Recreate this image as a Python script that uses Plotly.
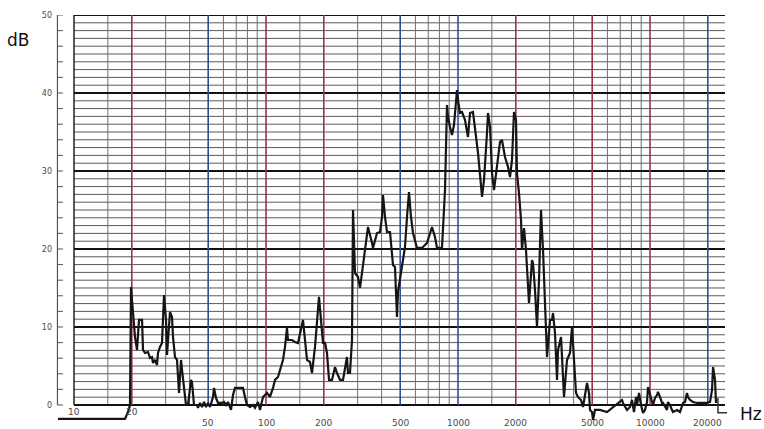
import math
import plotly.graph_objects as go

# ---------------- data ----------------
freq_hz = [8.25, 18.44, 19.11, 19.57, 19.81, 20.78, 21.29, 21.81, 22.61, 22.88,
           23.43, 24.29, 24.88, 25.48, 25.79, 26.41, 27.06, 27.38, 28.05, 28.73,
           29.43, 30.15, 30.51, 30.88, 31.62, 32.39, 32.78, 33.58, 34.39, 35.24,
           36.09, 36.52, 37.41, 38.31, 39.25, 40.68, 41.17, 42.17, 43.71, 44.24,
           45.32, 46.42, 47.55, 48.70, 49.89, 51.09, 52.96, 53.60, 54.90, 56.23,
           59.00, 60.43, 61.90, 63.40, 65.72, 67.32, 68.95, 73.21, 75.89, 77.73,
           79.62, 82.54, 85.56, 87.64, 89.77, 90.86, 93.07, 95.32, 96.47, 101.2,
           104.9, 108.8, 111.4, 115.5, 118.3, 122.6, 125.6, 128.6, 130.2, 136.6,
           141.6, 146.8, 155.8, 163.5, 169.5, 173.6, 180.0, 188.8, 198.1, 202.9,
           207.8, 212.9, 220.7, 228.8, 234.3, 242.9, 251.8, 257.9, 264.1, 267.3,
           273.8, 280.5, 283.9, 290.8, 301.5, 308.8, 316.2, 327.8, 339.8, 356.5,
           360.9, 378.6, 392.5, 402.0, 406.8, 416.7, 426.8, 442.4, 458.6, 469.7,
           481.1, 486.9, 510.9, 529.6, 542.5, 555.6, 569.1, 583.0, 611.6, 649.4,
           689.5, 732.1, 758.9, 777.3, 825.4, 855.6, 876.4, 887.0, 908.6, 930.7,
           953.2, 988.1, 1000, 1024, 1049, 1088, 1127, 1155, 1197, 1226,
           1271, 1334, 1366, 1416, 1433, 1468, 1504, 1540, 1596, 1655,
           1695, 1757, 1822, 1866, 1911, 1957, 2005, 2029, 2078, 2129,
           2154, 2207, 2260, 2315, 2343, 2429, 2458, 2518, 2579, 2642,
           2706, 2772, 2839, 2908, 3015, 3088, 3125, 3201, 3279, 3318,
           3440, 3524, 3566, 3696, 3831, 3924, 4020, 4117, 4217, 4371,
           4478, 4586, 4698, 4812, 4870, 4989, 5049, 5171, 5490, 5972,
           6418, 6813, 7147, 7234, 7589, 7867, 8058, 8254, 8455, 8557,
           8765, 8978, 9196, 9418, 9647, 9763, 10000, 10121, 10366, 10618,
           10876, 11007, 11274, 11548, 11687, 12261, 12409, 12710, 13019, 13176,
           13823, 14330, 14856, 15218, 15583, 15771, 16154, 16747, 17572, 19815,
           20540, 21040, 21294, 21544, 21804, 22067]

level_db = [-1.79, -1.79, -0.90, 0.0, 15.13, 8.72, 7.05, 10.90, 10.90, 7.05,
            6.67, 6.79, 6.03, 6.15, 5.38, 5.77, 5.13, 6.67, 7.44, 7.95,
            14.10, 10.90, 6.41, 8.33, 11.92, 11.28, 8.72, 6.15, 5.77, 1.54,
            5.77, 4.49, 2.56, 0.0, 0.0, 3.21, 2.95, 0.0, 0.0, -0.38,
            0.26, -0.26, 0.38, -0.26, 0.26, -0.26, 1.03, 2.18, 0.90, 0.26,
            0.26, 0.38, 0.0, 0.38, -0.64, 1.28, 2.18, 2.18, 2.18, 1.03,
            0.0, -0.26, 0.0, -0.38, 0.26, 0.38, -0.64, 0.38, 1.03, 1.54,
            1.03, 2.18, 3.21, 3.59, 4.49, 5.77, 7.44, 9.87, 8.33, 8.33,
            8.08, 7.95, 10.90, 5.77, 5.51, 4.10, 7.44, 13.85, 7.95, 7.95,
            6.67, 3.21, 3.21, 4.87, 4.10, 3.21, 3.21, 4.87, 6.15, 4.10,
            4.10, 8.33, 25.0, 16.92, 16.41, 15.0, 16.92, 19.87, 22.82, 20.77,
            20.13, 22.05, 22.18, 24.10, 26.92, 24.10, 22.18, 22.18, 17.95, 17.69,
            11.28, 14.49, 17.69, 20.26, 24.10, 27.31, 24.10, 22.05, 20.13, 20.13,
            20.77, 22.82, 21.54, 20.13, 20.13, 27.56, 38.46, 36.92, 35.64, 34.62,
            35.90, 40.38, 39.10, 37.44, 37.56, 36.54, 34.36, 37.44, 37.56, 35.64,
            32.31, 26.67, 28.85, 34.87, 37.44, 35.64, 29.74, 27.56, 30.51, 33.72,
            33.97, 31.79, 30.51, 29.23, 31.41, 37.56, 36.54, 29.74, 27.18, 23.72,
            19.87, 22.69, 19.87, 16.03, 13.08, 18.59, 18.21, 14.74, 10.0, 16.03,
            25.0, 19.87, 12.56, 6.15, 10.90, 10.90, 11.79, 9.23, 3.21, 7.05,
            8.72, 4.10, 1.03, 5.77, 6.67, 10.0, 4.87, 1.54, 1.03, 0.64,
            -0.26, 1.54, 2.82, 1.54, -0.64, -0.90, -1.92, -0.64, -0.64, -0.90,
            -0.26, 0.26, 0.64, 0.26, -0.64, -0.26, 0.64, -0.90, 1.03, 0.0,
            1.54, 0.0, -1.03, -0.64, 0.38, 2.31, 1.54, 0.90, 0.0, 0.90,
            1.28, 1.67, 1.03, 0.26, 0.26, -0.64, 0.38, 0.0, -0.64, -0.90,
            -0.64, -0.90, 0.26, 0.38, 1.54, 1.03, 0.64, 0.38, 0.26, 0.26,
            0.38, 1.92, 4.87, 4.10, 3.21, 0.26]

x_tick_hz = [10, 20, 50, 100, 200, 500, 1000, 2000, 5000, 10000, 20000]
x_tick_labels = ["10", "20", "50", "100", "200", "500", "1000", "2000", "5000", "10000", "20000"]
y_tick_db = [0, 10, 20, 30, 40, 50]
y_tick_labels = ["0", "10", "20", "30", "40", "50"]

# grid definition
grid_left_hz = 10
grid_right_hz = 24580
minor_freqs = [15, 30, 40, 60, 70, 80, 90,
               150, 300, 400, 600, 700, 800, 900,
               1500, 3000, 4000, 6000, 7000, 8000, 9000,
               15000]
red_freqs = [20, 100, 200, 2000, 5000, 10000]
blue_freqs = [50, 500, 1000, 20000]
major_db = [0, 10, 20, 30, 40, 50]
minor_db = [d for d in range(1, 50) if d % 10]

# left scale bar and "Hz" bracket marks
axis_bar_hz = 8.2
axis_tick_end_hz = 8.76
axis_tick_db = list(range(0, 51, 2))
hz_mark_hz = [22590, 22590, 25180]
hz_mark_db = [0.9, -1.0, -1.0]

x_range_log = [0.90625, 4.59375]
y_range = [-3.08, 50]


def vlines(freqs, lo=0, hi=50):
    xs, ys = [], []
    for f in freqs:
        xs += [f, f, None]
        ys += [lo, hi, None]
    return xs, ys


def hlines(levels, x0=grid_left_hz, x1=grid_right_hz):
    xs, ys = [], []
    for d in levels:
        xs += [x0, x1, None]
        ys += [d, d, None]
    return xs, ys


fig = go.Figure()


def add_lines(xs, ys, color, width):
    fig.add_trace(go.Scatter(x=xs, y=ys, mode="lines",
                             line=dict(color=color, width=width),
                             hoverinfo="skip", showlegend=False))


x, y = hlines(minor_db)
add_lines(x, y, "#5a5a5a", 1)
x, y = vlines(minor_freqs)
add_lines(x, y, "#6e6e6e", 1)
x, y = hlines(major_db)
add_lines(x, y, "#111111", 1.8)
x, y = vlines([grid_left_hz])
add_lines(x, y, "#222222", 1.5)
x, y = vlines(red_freqs)
add_lines(x, y, "#9a3346", 1.6)
x, y = vlines(blue_freqs)
add_lines(x, y, "#2f4f96", 1.6)

# left scale bar
x, y = vlines([axis_bar_hz], 0, 50)
add_lines(x, y, "#555555", 1.2)
tx, ty = [], []
for d in axis_tick_db:
    tx += [axis_bar_hz, axis_tick_end_hz, None]
    ty += [d, d, None]
add_lines(tx, ty, "#555555", 1)

# Hz bracket
add_lines(hz_mark_hz, hz_mark_db, "#333333", 1.5)

# response curve
fig.add_trace(go.Scatter(x=freq_hz, y=level_db, mode="lines",
                         line=dict(color="#151515", width=2.2),
                         showlegend=False))

annotations = []
for f, lab in zip(x_tick_hz, x_tick_labels):
    yy = -0.9 if f < 50 else -2.35
    annotations.append(dict(x=math.log10(f), y=yy, xref="x", yref="y",
                            text=lab, showarrow=False,
                            font=dict(family="DejaVu Sans", size=9, color="#4a4a4a"),
                            xanchor="center", yanchor="middle"))
annotations.append(dict(x=-0.054, y=0.94, xref="paper", yref="paper", text="dB",
                        showarrow=False, font=dict(family="DejaVu Sans", size=17, color="#111"),
                        xanchor="center", yanchor="middle"))
annotations.append(dict(x=0.982, y=0.037, xref="paper", yref="paper", text="Hz",
                        showarrow=False, font=dict(family="DejaVu Sans", size=17, color="#111"),
                        xanchor="center", yanchor="middle"))

fig.update_layout(
    width=764, height=429,
    margin=dict(l=56, r=0, t=15, b=0, pad=0),
    paper_bgcolor="white", plot_bgcolor="white",
    annotations=annotations,
    xaxis=dict(type="log", range=x_range_log, showgrid=False, zeroline=False,
               showticklabels=False, ticks="", showline=False, fixedrange=True),
    yaxis=dict(range=y_range, showgrid=False, zeroline=False, showline=False,
               tickmode="array", tickvals=y_tick_db, ticktext=y_tick_labels,
               ticks="", ticklabelstandoff=3,
               tickfont=dict(family="DejaVu Sans", size=8, color="#4a4a4a"),
               fixedrange=True),
)

fig.write_html(
    "out.html",
    config={"displayModeBar": False},
    post_script="document.body.style.margin='0';document.body.style.padding='0';document.body.style.overflow='hidden';",
)
